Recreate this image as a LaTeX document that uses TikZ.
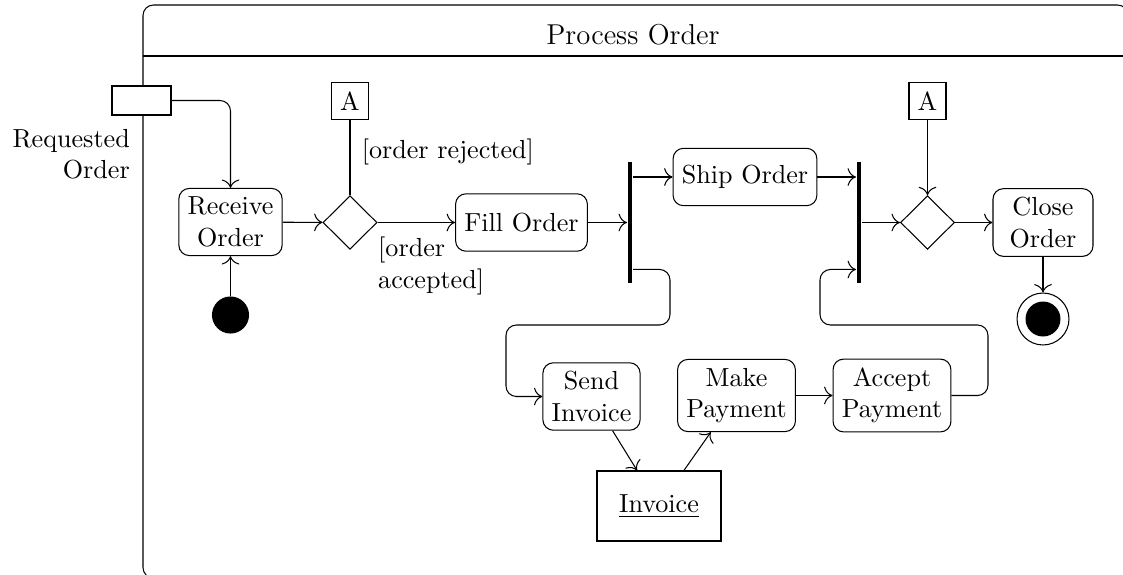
\documentclass[tikz,border=0pt]{standalone}
\usetikzlibrary{shapes.geometric,calc,arrows.meta}
\begin{document}
\begin{tikzpicture}[x=0.383pt,y=-0.383pt,
  >={To[scale=1.3]},
  every node/.style={font=\normalsize},
  action/.style={draw,rounded corners=4pt,fill=white,align=center,minimum height=22pt},
  decision/.style={draw,diamond,fill=white,minimum width=20.7pt,minimum height=20.5pt,inner sep=0pt},
  conn/.style={draw,rectangle,fill=white},
  bar/.style={rectangle,fill=black,minimum width=1.9pt,minimum height=46.3pt,inner sep=0pt},
  pinbox/.style={draw,rectangle,fill=white,minimum width=22.6pt,minimum height=11.1pt,inner sep=0pt},
  objbox/.style={draw,rectangle,fill=white,minimum width=47.5pt,minimum height=26.8pt},
  initnode/.style={circle,fill=black,minimum size=14.2pt,inner sep=0pt},
  finalnode/.style={circle,draw,fill=white,minimum size=19.9pt,inner sep=0pt},
  finalin/.style={circle,fill=black,minimum size=13.4pt,inner sep=0pt},
  flow/.style={->},
  flowr/.style={->,rounded corners=4pt}
]
\useasboundingbox (0,0) rectangle (1123,574);
% frame
\begin{scope}
  \clip (0,0) rectangle (1123,574);
  \draw[rounded corners=4pt] (143,5) rectangle (1128,578);
  \draw (143,56) -- (1128,56);
\end{scope}
\node[font=\fontsize{11}{13.6}\selectfont] (title) at (633,35) {Process Order};

% nodes
\node[pinbox] (pin) at (141.5,100.5) {};
\node[anchor=north east,align=right] (reqlbl) at (139,120) {Requested\\Order};
\node[action] (recv) at (230.5,222) {Receive\\Order};
\node[initnode] (init) at (230.5,315) {};
\node[decision] (d1) at (350,222.5) {};
\node[conn] (a1) at (350,101) {A};
\node[action] (fill) at (521.5,222.5) {Fill Order};
\node[bar] (bar1) at (630,222.5) {};
\node[action] (ship) at (745,177) {Ship Order};
\node[bar] (bar2) at (859,222.5) {};
\node[decision] (d2) at (927.5,222.5) {};
\node[conn] (a2) at (927.5,101) {A};
\node[action,minimum width=38.3pt] (close) at (1043,222.5) {Close\\Order};
\node[finalnode] (final) at (1043,319) {};
\node[finalin] (finalc) at (final.center) {};
\node[action] (send) at (591.5,396.5) {Send\\Invoice};
\node[action] (make) at (736.5,395.5) {Make\\Payment};
\node[action] (accept) at (892,395.5) {Accept\\Payment};
\node[objbox] (inv) at (659,506) {\underline{Invoice}};

\coordinate (r1) at (670,325);
\coordinate (r2) at (506,325);
\coordinate (r3) at (988,325);
\coordinate (r4) at (820,325);

% connectors
\draw[flowr] (pin.east) -| (recv.north);
\draw[flow] (init) -- (recv);
\draw[flow] (recv) -- (d1);
\draw (d1.north) -- node[anchor=west,xshift=1pt,yshift=2pt] (rej) {[order rejected]} (a1.south);
\draw[flow] (d1.east) -- (fill.west);
\node[anchor=north west,align=left] (acc) at (369,228) {[order\\accepted]};
\draw[flow] (fill.east) -- (fill.east -| bar1.west);
\draw[flow] (ship.west -| bar1.east) -- (ship.west);
\draw[flow] (ship.east) -- (ship.east -| bar2.west);
\draw[flow] (d2.west -| bar2.east) -- (d2.west);
\draw[flow] (a2.south) -- (d2.north);
\draw[flow] (d2.east) -- (close.west);
\draw[flow] (close.south) -- (final.north);
\draw[flowr] ($(bar1.south east)+(0,-14)$) -| (r1) -- (r2) |- (send.west);
\draw[flow] (make.east) -- (accept.west);
\draw[flowr] (accept.east) -| (r3) -- (r4) |- ($(bar2.south west)+(0,-14)$);
\draw[flow] (send) -- (inv);
\draw[flow] (inv) -- (make);
\end{tikzpicture}
\end{document}
